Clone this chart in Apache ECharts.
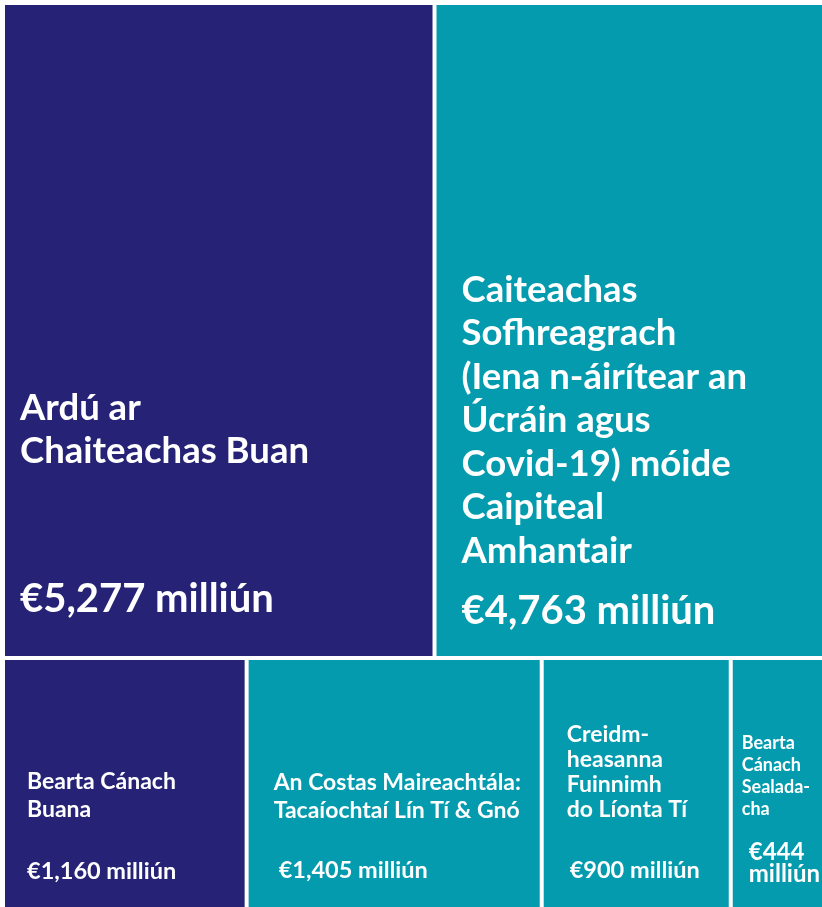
<!DOCTYPE html>
<html>
<head>
<meta charset="utf-8">
<title>Treemap</title>
<script src="https://cdn.jsdelivr.net/npm/echarts@6/dist/echarts.min.js"></script>
<style>
  html, body { margin: 0; padding: 0; background: #fff; }
  #chart { width: 822px; height: 907px; }
</style>
</head>
<body>
<div id="chart"></div>
<script>
// ainmneacha (le briseadh línte mar atá sa bhunchairt)
const names = [
  'Ardú ar\nChaiteachas Buan',
  'Caiteachas\nSofhreagrach\n(Iena n-áirítear an\nÚcráin agus\nCovid-19) móide\nCaipiteal\nAmhantair',
  'Bearta Cánach\nBuana',
  'An Costas Maireachtála:\nTacaíochtaí Lín Tí & Gnó',
  'Creidm-\nheasanna\nFuinnimh\ndo Líonta Tí',
  'Bearta\nCánach\nSealada-\ncha'
]
// milliún euro
const values = [5277, 4763, 1160, 1405, 900, 444]
const valueLabels = [
  '€5,277 milliún',
  '€4,763 milliún',
  '€1,160 milliún',
  '€1,405 milliún',
  '€900 milliún',
  '€444\nmilliún'
]

const NAVY = '#262376'
const TEAL = '#039bad'
const colors = [NAVY, TEAL, NAVY, TEAL, TEAL, TEAL]

// label styles per box: offset inside rect, font sizes, line heights, gap
const labelStyles = [
  { pos: [10, 377], tSize: 36.5, tLh: 43, gap: 104, vSize: 40, vLh: 44, vPad: 0 },
  { pos: [20, 258], tSize: 36.5, tLh: 43.5, gap: 17, vSize: 40, vLh: 44, vPad: 0 },
  { pos: [17, 103], tSize: 23, tLh: 28, gap: 33, vSize: 23.5, vLh: 28, vPad: 0 },
  { pos: [20, 104], tSize: 23, tLh: 28, gap: 31, vSize: 23.5, vLh: 28, vPad: 5 },
  { pos: [18, 57.5], tSize: 23, tLh: 25, gap: 34, vSize: 23.5, vLh: 28, vPad: 3 },
  { pos: [4, 67], tSize: 18, tLh: 22, gap: 21, vSize: 24, vLh: 22, vPad: 7 }
]

function buildLabel (i) {
  const s = labelStyles[i]
  const title = names[i].split('\n').map(l => '{t|' + l + '}').join('\n')
  const val = valueLabels[i].split('\n').map(l => '{v|' + l + '}').join('\n')
  return {
    show: true,
    position: s.pos,
    align: 'left',
    verticalAlign: 'top',
    overflow: 'none',
    formatter: title + '\n{g|}\n' + val,
    rich: {
      t: { fontSize: s.tSize, lineHeight: s.tLh, fontWeight: 'bold', color: '#fff', fontFamily: 'Lato' },
      g: { height: s.gap, lineHeight: s.gap, fontSize: 1 },
      v: { fontSize: s.vSize, lineHeight: s.vLh, fontWeight: 'bold', color: '#fff', fontFamily: 'Lato', padding: [0, 0, 0, s.vPad] }
    }
  }
}

const seriesData = values.map((v, i) => ({
  name: names[i],
  value: v,
  itemStyle: { color: colors[i] },
  label: buildLabel(i)
}))

const myChart = echarts.init(document.getElementById('chart'))
myChart.setOption({
  animation: false,
  tooltip: { show: false },
  series: [
    {
      type: 'treemap',
      left: 5,
      top: 5,
      right: 0,
      bottom: -4,
      roam: false,
      nodeClick: false,
      sort: false,
      squareRatio: 1,
      breadcrumb: { show: false },
      itemStyle: { gapWidth: 4, borderWidth: 0, borderColor: '#fff' },
      emphasis: { disabled: true },
      data: seriesData
    }
  ]
})
</script>
</body>
</html>
